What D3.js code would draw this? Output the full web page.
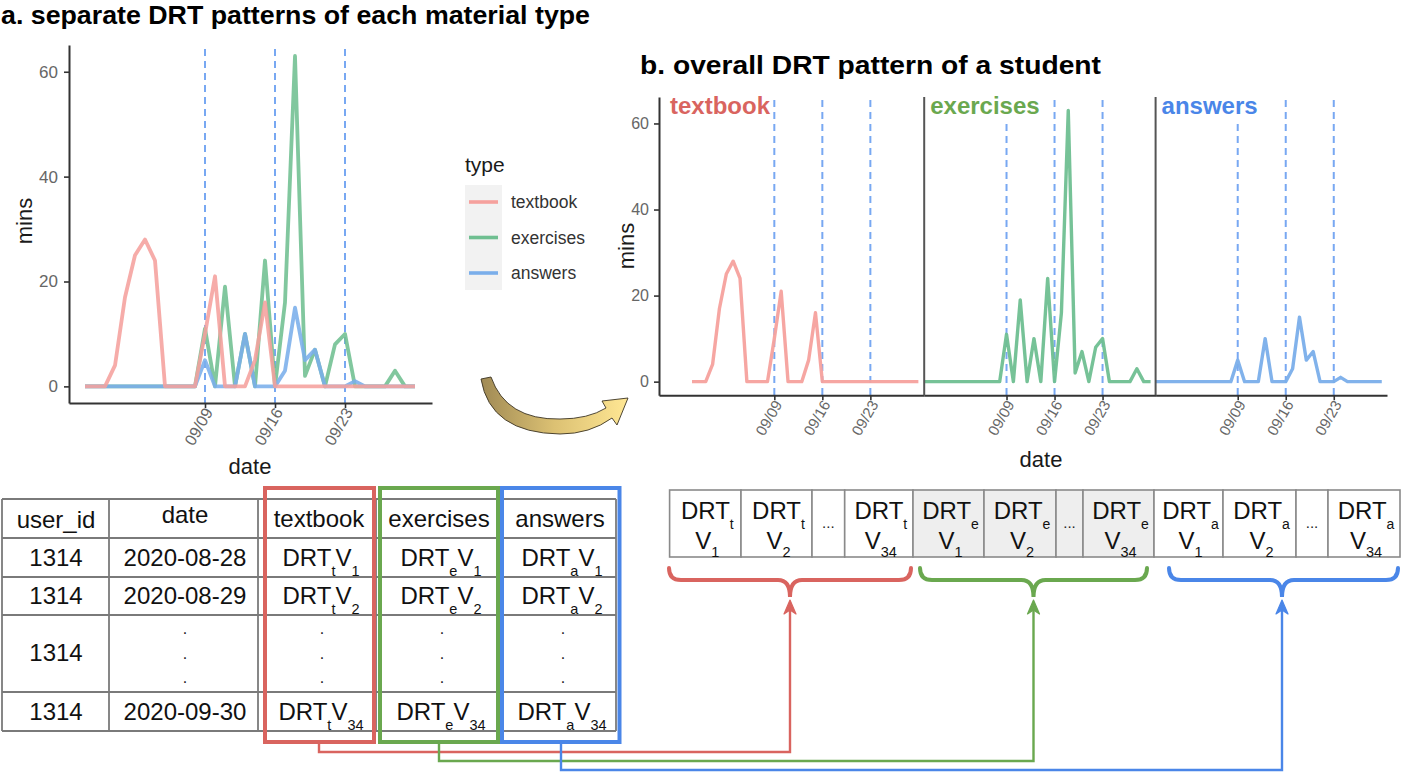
<!DOCTYPE html>
<html><head><meta charset="utf-8">
<script src="https://cdn.jsdelivr.net/npm/d3@7"></script>
<style>
body{margin:0;background:#fff}
svg{display:block}
text{font-family:"Liberation Sans",Arial,Helvetica,sans-serif}
</style>
</head><body>
<svg id="c" width="1416" height="774"></svg>
<script>
// ---------------- DATA ----------------
const dates = ["2020-08-28","2020-08-29","2020-08-30","2020-08-31","2020-09-01","2020-09-02","2020-09-03",
  "2020-09-04","2020-09-05","2020-09-06","2020-09-07","2020-09-08","2020-09-09","2020-09-10","2020-09-11",
  "2020-09-12","2020-09-13","2020-09-14","2020-09-15","2020-09-16","2020-09-17","2020-09-18","2020-09-19",
  "2020-09-20","2020-09-21","2020-09-22","2020-09-23","2020-09-24","2020-09-25","2020-09-26","2020-09-27",
  "2020-09-28","2020-09-29","2020-09-30"];
const types = ["textbook","exercises","answers"];
const textbook  = [0,0,0,4,17,25,28,24,0,0,0,0,10,21,0,0,0,5,16,0,0,0,0,0,0,0,0,0,0,0,0,0,0,0];
const exercises = [0,0,0,0,0,0,0,0,0,0,0,0,11,0,19,0,10,0,24,0,16,63,2,7,0,8,10,0,0,0,0,3,0,0];
const answers   = [0,0,0,0,0,0,0,0,0,0,0,0,5,0,0,0,10,0,0,0,3,15,5,7,0,0,0,1,0,0,0,0,0,0];
const yTicks = [0,20,40,60];
const xTickDates = ["2020-09-09","2020-09-16","2020-09-23"];
const xTickLabels = ["09/09","09/16","09/23"];
const tableHeader = ["user_id","date","textbook","exercises","answers"];
const tableUserIds = ["1314","1314","1314","1314"];
const tableDates = ["2020-08-28","2020-08-29",null,"2020-09-30"];
const tableIndex = ["1","2",null,"34"];
const typeSubs = ["t","e","a"];
const vectorItems = ["1","2","...","34"];
const titleA = "a. separate DRT patterns of each material type";
const titleB = "b. overall DRT pattern of a student";

// ---------------- STYLE ----------------
const series = {textbook, exercises, answers};
const lineColors = {textbook:"#F5A19D", exercises:"#6FBF91", answers:"#7AAEEA"};
const accent = {textbook:"#D9645F", exercises:"#6AA84F", answers:"#4A86E8"};
const drawOrder = ["exercises","answers","textbook"];
const axisColor = "#333", tickTextColor = "#666", vlineColor = "#78A8F2";
const tickIdx = xTickDates.map(d => dates.indexOf(d));

const svg = d3.select("#c");

// titles
svg.append("text").attr("x",1).attr("y",24).attr("font-size",26).attr("font-weight","bold")
  .attr("fill","#000").attr("textLength",589).attr("lengthAdjust","spacingAndGlyphs").text(titleA);
svg.append("text").attr("x",640).attr("y",74).attr("font-size",26.5).attr("font-weight","bold")
  .attr("fill","#000").attr("textLength",461).attr("lengthAdjust","spacingAndGlyphs").text(titleB);

function styleAxis(g, fs){
  g.select(".domain").attr("stroke",axisColor).attr("stroke-width",2);
  g.selectAll(".tick line").attr("stroke",axisColor).attr("stroke-width",1.6);
  g.selectAll(".tick text").attr("fill",tickTextColor).attr("font-size",fs)
    .attr("font-family",'"Liberation Sans",Arial,sans-serif');
}
function rotateTicks(g){
  g.selectAll(".tick text").attr("transform","rotate(-60)").attr("text-anchor","end")
    .attr("x",-3.8).attr("y",11.4).attr("dy",0);
}

// ---------------- PANEL A ----------------
const ax = d3.scaleLinear().domain([-1.6, 34.7]).range([69, 432]);
const ay = d3.scaleLinear().domain([-3.17, 65.1]).range([403, 45]);
const gA = svg.append("g");
tickIdx.forEach(i => {
  gA.append("line").attr("x1",ax(i)).attr("x2",ax(i)).attr("y1",ay(65.1)+4).attr("y2",ay(-3.17))
    .attr("stroke",vlineColor).attr("stroke-width",2).attr("stroke-dasharray","7,5");
});
const lineA = d3.line().x((d,i)=>ax(i)).y(d=>ay(d));
drawOrder.forEach(t => {
  gA.append("path").datum(series[t]).attr("d",lineA).attr("fill","none")
    .attr("stroke",lineColors[t]).attr("stroke-width",3.8).attr("stroke-opacity",0.88)
    .attr("stroke-linejoin","round");
});
const yAxA = gA.append("g").attr("transform","translate(69,0)")
  .call(d3.axisLeft(ay).tickValues(yTicks).tickSize(5).tickSizeOuter(0).tickPadding(6));
styleAxis(yAxA,17);
const xAxA = gA.append("g").attr("transform","translate(0,403)")
  .call(d3.axisBottom(ax).tickValues(tickIdx).tickFormat((d,i)=>xTickLabels[i]).tickSize(5).tickSizeOuter(0));
styleAxis(xAxA,16); rotateTicks(xAxA);
gA.append("text").attr("x",250).attr("y",474).attr("text-anchor","middle").attr("font-size",22)
  .attr("fill","#1a1a1a").text("date");
gA.append("text").attr("transform","translate(32,221) rotate(-90)").attr("text-anchor","middle")
  .attr("font-size",22).attr("fill","#1a1a1a").text("mins");

// legend
const lg = svg.append("g");
lg.append("text").attr("x",465).attr("y",172).attr("font-size",21).attr("fill","#1a1a1a").text("type");
lg.append("rect").attr("x",465).attr("y",185).attr("width",37).attr("height",105).attr("fill","#F2F2F2");
types.forEach((t,i) => {
  const yy = 202 + i*35.5;
  lg.append("line").attr("x1",469).attr("x2",498).attr("y1",yy).attr("y2",yy)
    .attr("stroke",lineColors[t]).attr("stroke-width",3.6);
  lg.append("text").attr("x",511).attr("y",yy).attr("dy","0.35em").attr("font-size",17.5)
    .attr("fill","#333").text(t);
});

// ---------------- PANEL B ----------------
const ppd = 6.86;
const panels = [
  {t:"textbook", left:659, x0:692, right:924.2},
  {t:"exercises", left:924.2, x0:924.2, right:1155.6},
  {t:"answers", left:1155.6, x0:1155.4, right:1387}
];
const by = d3.scaleLinear().domain([-3.15, 66.15]).range([395.2, 97]);
const gB = svg.append("g");
panels.forEach((p,k) => {
  const bx = d3.scaleLinear().domain([(p.left-p.x0)/ppd, (p.right-p.x0)/ppd]).range([p.left, p.right]);
  tickIdx.forEach(i => {
    gB.append("line").attr("x1",bx(i)).attr("x2",bx(i)).attr("y1",by(66.15)+3).attr("y2",by(-3.15))
      .attr("stroke",vlineColor).attr("stroke-width",2).attr("stroke-dasharray","7,5");
  });
  const lineB = d3.line().x((d,i)=>bx(i)).y(d=>by(d));
  gB.append("path").datum(series[p.t]).attr("d",lineB).attr("fill","none")
    .attr("stroke",lineColors[p.t]).attr("stroke-width",3.4).attr("stroke-opacity",0.95)
    .attr("stroke-linejoin","round");
  const xg = gB.append("g").attr("transform","translate(0,395.2)")
    .call(d3.axisBottom(bx).tickValues(tickIdx).tickFormat((d,i)=>xTickLabels[i]).tickSize(5).tickSizeOuter(0));
  styleAxis(xg,15); rotateTicks(xg);
  if(k===0){
    const yg = gB.append("g").attr("transform",`translate(${p.left},0)`)
      .call(d3.axisLeft(by).tickValues(yTicks).tickSize(5).tickSizeOuter(0).tickPadding(5));
    styleAxis(yg,16);
  } else {
    gB.append("line").attr("x1",p.left).attr("x2",p.left).attr("y1",by(66.15)).attr("y2",by(-3.15))
      .attr("stroke","#555").attr("stroke-width",2);
  }
  // strip label
  const lab = gB.append("text").attr("x",p.left+(k===0?11:6)).attr("y",114).attr("font-size",24)
    .attr("font-weight","bold").attr("fill",accent[p.t]).text(p.t);
  const bb = lab.node().getBBox();
  gB.insert("rect",()=>lab.node()).attr("x",bb.x-1).attr("y",bb.y).attr("width",bb.width+2)
    .attr("height",bb.height+2).attr("fill","#fff");
});
gB.append("text").attr("x",1041).attr("y",467).attr("text-anchor","middle").attr("font-size",22)
  .attr("fill","#1a1a1a").text("date");
gB.append("text").attr("transform","translate(634,246) rotate(-90)").attr("text-anchor","middle")
  .attr("font-size",22).attr("fill","#1a1a1a").text("mins");

// ---------------- CURVED ARROW ----------------
const defs = svg.append("defs");
const grad = defs.append("linearGradient").attr("id","gold").attr("x1","0").attr("x2","1").attr("y1","0").attr("y2","0");
grad.append("stop").attr("offset","0").attr("stop-color","#A08A55");
grad.append("stop").attr("offset","0.5").attr("stop-color","#DCC173");
grad.append("stop").attr("offset","1").attr("stop-color","#FFE794");
svg.append("path")
  .attr("d","M491,377 Q506,420 560,419 Q588,419 606,408 L602,401 L628,398 L617,425 L612,418 Q590,434 560,434 Q490,433 481,379 Z")
  .attr("fill","url(#gold)").attr("stroke","#3b3322").attr("stroke-width",0.9);

// ---------------- TABLE ----------------
const tblCols = [2,109,258,376,499,616];
const tblRows = [499,538,577,615,692,731];
const gT = svg.append("g");
const lineCol = "#7a7a7a";
tblRows.forEach(y => gT.append("line").attr("x1",tblCols[0]).attr("x2",tblCols[5]).attr("y1",y).attr("y2",y)
  .attr("stroke",lineCol).attr("stroke-width",1.8));
tblCols.forEach(x => gT.append("line").attr("x1",x).attr("x2",x).attr("y1",tblRows[0]).attr("y2",tblRows[5])
  .attr("stroke",lineCol).attr("stroke-width",1.8));
const colCenters = [56,185,319,439,560];
const hdrY = [528,523,527,527,527];
tableHeader.forEach((h,i)=> gT.append("text").attr("x",colCenters[i]).attr("y",hdrY[i])
  .attr("text-anchor","middle").attr("font-size",24).attr("fill","#111").text(h));
const rowBase = [566,604,661,720];
function drtText(g, x, y, sub, idx, fs, sfs){
  const t = g.append("text").attr("x",x).attr("y",y).attr("text-anchor","middle").attr("font-size",fs).attr("fill","#111");
  t.append("tspan").text("DRT");
  t.append("tspan").attr("font-size",sfs).attr("dy",10).text(sub);
  t.append("tspan").attr("dy",-10).text("V");
  t.append("tspan").attr("font-size",sfs).attr("dy",10).text(idx);
  return t;
}
tableUserIds.forEach((u,r)=>{
  gT.append("text").attr("x",colCenters[0]).attr("y",rowBase[r]).attr("text-anchor","middle")
    .attr("font-size",24).attr("fill","#111").text(u);
  if(tableDates[r]){
    gT.append("text").attr("x",colCenters[1]).attr("y",rowBase[r]).attr("text-anchor","middle")
      .attr("font-size",24).attr("fill","#111").text(tableDates[r]);
    typeSubs.forEach((s,k)=> drtText(gT, colCenters[2+k]+2, rowBase[r], s, tableIndex[r], 24, 14.5));
  } else {
    [1,2,3,4].forEach(c => [634,659,683].forEach(yy => {
      gT.append("text").attr("x",colCenters[c]+(c>1?3:0)).attr("y",yy).attr("text-anchor","middle")
        .attr("font-size",16).attr("fill","#222").text(".");
    }));
  }
});
// colored boxes
const boxes = [{t:"textbook",x1:265,x2:374},{t:"exercises",x1:380,x2:498},{t:"answers",x1:502,x2:619.5}];
boxes.forEach(b => gT.append("rect").attr("x",b.x1).attr("y",488).attr("width",b.x2-b.x1).attr("height",254)
  .attr("fill","none").attr("stroke",accent[b.t]).attr("stroke-width",4));

// ---------------- VECTOR ----------------
const vecEdges = [669.6,741,812,844.7,913,984,1056,1083,1154,1223,1296,1328,1400];
const vTop = 490, vBot = 557;
const gV = svg.append("g");
typeSubs.forEach((s,k)=>{
  vectorItems.forEach((it,j)=>{
    const c = k*4+j, x1 = vecEdges[c], x2 = vecEdges[c+1], cx = (x1+x2)/2;
    gV.append("rect").attr("x",x1).attr("y",vTop).attr("width",x2-x1).attr("height",vBot-vTop)
      .attr("fill", k===1 ? "#EEEEEE" : "#fff").attr("stroke","#8a8a8a").attr("stroke-width",1.6);
    if(it==="..."){
      gV.append("text").attr("x",cx).attr("y",528).attr("text-anchor","middle").attr("font-size",15)
        .attr("fill","#222").text("...");
    } else {
      const t1 = gV.append("text").attr("x",cx+2).attr("y",519).attr("text-anchor","middle")
        .attr("font-size",24).attr("fill","#111");
      t1.append("tspan").text("DRT");
      t1.append("tspan").attr("font-size",14).attr("dy",10).text(s);
      const t2 = gV.append("text").attr("x",cx+2).attr("y",549).attr("text-anchor","middle")
        .attr("font-size",24).attr("fill","#111");
      t2.append("tspan").text("V");
      t2.append("tspan").attr("font-size",14.5).attr("dy",8).text(it);
    }
  });
});
// braces + connectors
const braces = [
  {t:"textbook", x1:669, x2:911, cx:790, from:319, yh:752},
  {t:"exercises", x1:920, x2:1147, cx:1033.5, from:439, yh:761},
  {t:"answers", x1:1169, x2:1398, cx:1282, from:561, yh:770}
];
braces.forEach(b=>{
  const r=12, yT=568, yM=580, yC=597;
  gV.append("path").attr("d",`M${b.x1},${yT} Q${b.x1},${yM} ${b.x1+r},${yM} L${b.cx-12},${yM} Q${b.cx},${yM} ${b.cx},${yC} Q${b.cx},${yM} ${b.cx+12},${yM} L${b.x2-r},${yM} Q${b.x2},${yM} ${b.x2},${yT}`)
    .attr("fill","none").attr("stroke",accent[b.t]).attr("stroke-width",4).attr("stroke-linecap","round");
  gV.append("path").attr("d",`M${b.from},742 L${b.from},${b.yh} L${b.cx},${b.yh} L${b.cx},606`)
    .attr("fill","none").attr("stroke",accent[b.t]).attr("stroke-width",2.4);
  gV.append("path").attr("d",`M${b.cx},600 L${b.cx-6},614 L${b.cx},610 L${b.cx+6},614 Z`)
    .attr("fill",accent[b.t]).attr("stroke",accent[b.t]).attr("stroke-width",1.2).attr("stroke-linejoin","round");
});
</script>
</body></html>
